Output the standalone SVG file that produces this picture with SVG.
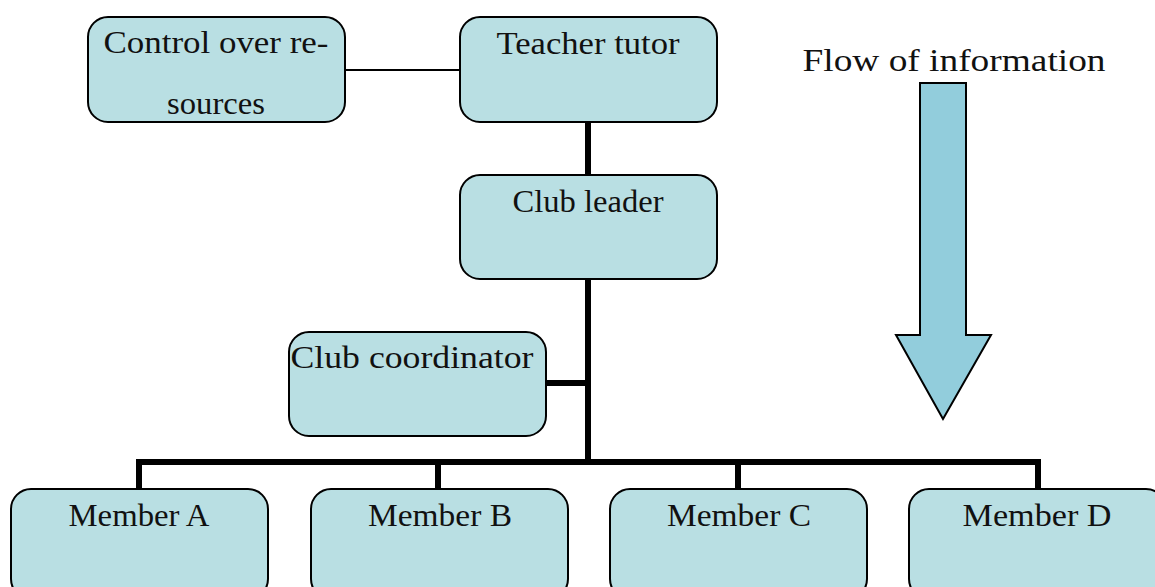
<svg xmlns="http://www.w3.org/2000/svg" width="1155" height="587" viewBox="0 0 1155 587">
<style>
.box{fill:#b9dfe3;stroke:#000;stroke-width:2}
.t{font-family:"Liberation Serif","Times New Roman",serif;font-size:31px;fill:#111;text-anchor:middle}
.thick{stroke:#000;stroke-width:6;fill:none}
.thin{stroke:#000;stroke-width:2;fill:none}
</style>
<rect width="1155" height="587" fill="#fff"/>
<g id="connectors">
<line class="thin" x1="345" y1="70" x2="460" y2="70"/>
<line class="thick" x1="588" y1="122" x2="588" y2="175"/>
<line class="thick" x1="588" y1="279" x2="588" y2="465"/>
<line class="thick" x1="546" y1="383" x2="588" y2="383"/>
<line class="thick" x1="136" y1="462" x2="1041" y2="462"/>
<line class="thick" x1="139" y1="462" x2="139" y2="489"/>
<line class="thick" x1="438" y1="462" x2="438" y2="489"/>
<line class="thick" x1="738" y1="462" x2="738" y2="489"/>
<line class="thick" x1="1038" y1="462" x2="1038" y2="489"/>
</g>
<g id="control">
<rect class="box" x="88" y="17" width="257" height="105" rx="20"/>
<text class="t" x="216" y="53" textLength="225" lengthAdjust="spacingAndGlyphs">Control over re-</text>
<text class="t" x="216" y="114" textLength="98" lengthAdjust="spacingAndGlyphs">sources</text>
</g>
<g id="teacher">
<rect class="box" x="460" y="17" width="257" height="105" rx="20"/>
<text class="t" x="588" y="54" textLength="183" lengthAdjust="spacingAndGlyphs">Teacher tutor</text>
</g>
<g id="leader">
<rect class="box" x="460" y="175" width="257" height="104" rx="20"/>
<text class="t" x="588" y="212" textLength="151" lengthAdjust="spacingAndGlyphs">Club leader</text>
</g>
<g id="coordinator">
<rect class="box" x="289" y="332" width="257" height="104" rx="20"/>
<text class="t" x="412" y="368" textLength="243" lengthAdjust="spacingAndGlyphs">Club coordinator</text>
</g>
<g id="memberA">
<rect class="box" x="11" y="489" width="257" height="110" rx="20"/>
<text class="t" x="139" y="526" textLength="141" lengthAdjust="spacingAndGlyphs">Member A</text>
</g>
<g id="memberB">
<rect class="box" x="311" y="489" width="257" height="110" rx="20"/>
<text class="t" x="440" y="526" textLength="144" lengthAdjust="spacingAndGlyphs">Member B</text>
</g>
<g id="memberC">
<rect class="box" x="610" y="489" width="257" height="110" rx="20"/>
<text class="t" x="739" y="526" textLength="144" lengthAdjust="spacingAndGlyphs">Member C</text>
</g>
<g id="memberD">
<rect class="box" x="909" y="489" width="257" height="110" rx="20"/>
<text class="t" x="1037" y="526" textLength="149" lengthAdjust="spacingAndGlyphs">Member D</text>
</g>
<g id="flow">
<text class="t" x="954" y="71" textLength="303" lengthAdjust="spacingAndGlyphs">Flow of information</text>
<polygon points="920,83 966,83 966,335 991,335 943,419 896,335 920,335" fill="#92cddc" stroke="#000" stroke-width="2" stroke-linejoin="miter"/>
</g>
</svg>
